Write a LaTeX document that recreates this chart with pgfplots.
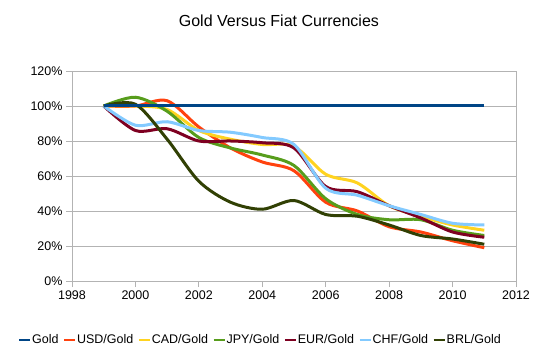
\documentclass[border=0pt]{standalone}
\usepackage{pgfplots}
\pgfplotsset{compat=1.18}
\usepackage{fontspec}
\setmainfont{Liberation Sans}
\definecolor{cGold}{HTML}{004586}
\definecolor{cUSD}{HTML}{FF420E}
\definecolor{cCAD}{HTML}{FFD320}
\definecolor{cJPY}{HTML}{579D1C}
\definecolor{cEUR}{HTML}{7E0021}
\definecolor{cCHF}{HTML}{83CAFF}
\definecolor{cBRL}{HTML}{314004}
\definecolor{cGrid}{HTML}{B3B3B3}
\begin{document}
\begin{tikzpicture}
\path[use as bounding box] (0,0) rectangle (553pt,361pt);
\begin{axis}[
  at={(72pt,80pt)}, anchor=south west,
  scale only axis, width=444pt, height=210pt,
  xmin=1998, xmax=2012, ymin=0, ymax=120,
  xtick={1998,2000,...,2012}, ytick={0,20,...,120},
  xtick pos=bottom, ytick pos=left,
  tick align=outside, major tick length=6pt,
  tick style={cGrid, line width=0.8pt},
  axis line style={cGrid, line width=0.8pt},
  ymajorgrids, grid style={cGrid, line width=0.8pt},
  /pgf/number format/assume math mode=true,
  /pgf/number format/1000 sep={},
  ticklabel style={font=\fontsize{12.5}{14}\selectfont},
  yticklabel={\pgfmathprintnumber{\tick}\%},
  title={Gold Versus Fiat Currencies},
  title style={font=\fontsize{16}{18}\selectfont, at={(axis description cs:0.466,1.2095)}, anchor=center},
  legend columns=7,
  legend style={draw=none, fill=none, at={(axis description cs:0.4234,-0.281)}, anchor=center,
    font=\fontsize{12.5}{14}\selectfont,
    /tikz/every even column/.append style={column sep=3.5pt},
    nodes={inner sep=1pt}},
  legend image code/.code={\draw[#1, line width=2pt] (0pt,0pt) -- (11pt,0pt);},
  every axis plot/.append style={line width=3pt, smooth, no marks},
]
\addplot[cGold] coordinates {(1999,100)(2000,100)(2001,100)(2002,100)(2003,100)(2004,100)(2005,100)(2006,100)(2007,100)(2008,100)(2009,100)(2010,100)(2011,100)};
\addlegendentry{Gold}
\addplot[cUSD] coordinates {(1999,100)(2000,100)(2001,103)(2002,88)(2003,76)(2004,68)(2005,63)(2006,45)(2007,40)(2008,31)(2009,28)(2010,23)(2011,19)};
\addlegendentry{USD/Gold}
\addplot[cCAD] coordinates {(1999,100)(2000,100)(2001,98)(2002,86)(2003,81)(2004,78)(2005,77)(2006,61)(2007,56)(2008,43)(2009,37)(2010,32)(2011,29)};
\addlegendentry{CAD/Gold}
\addplot[cJPY] coordinates {(1999,100)(2000,105)(2001,97)(2002,82)(2003,76)(2004,72)(2005,66)(2006,47)(2007,38)(2008,35)(2009,35)(2010,29)(2011,26)};
\addlegendentry{JPY/Gold}
\addplot[cEUR] coordinates {(1999,100)(2000,86)(2001,87)(2002,80)(2003,80)(2004,79)(2005,76)(2006,54)(2007,51)(2008,43)(2009,36)(2010,28)(2011,25)};
\addlegendentry{EUR/Gold}
\addplot[cCHF] coordinates {(1999,100)(2000,89)(2001,91)(2002,86)(2003,85)(2004,82)(2005,78)(2006,53)(2007,49)(2008,43)(2009,38)(2010,33)(2011,32)};
\addlegendentry{CHF/Gold}
\addplot[cBRL] coordinates {(1999,100)(2000,101)(2001,81)(2002,57)(2003,45)(2004,41)(2005,46)(2006,38)(2007,37)(2008,32)(2009,26)(2010,24)(2011,21)};
\addlegendentry{BRL/Gold}
\addplot[cGold, forget plot] coordinates {(1999,100)(2000,100)(2001,100)(2002,100)(2003,100)(2004,100)(2005,100)(2006,100)(2007,100)(2008,100)(2009,100)(2010,100)(2011,100)};
\end{axis}
\end{tikzpicture}
\end{document}
